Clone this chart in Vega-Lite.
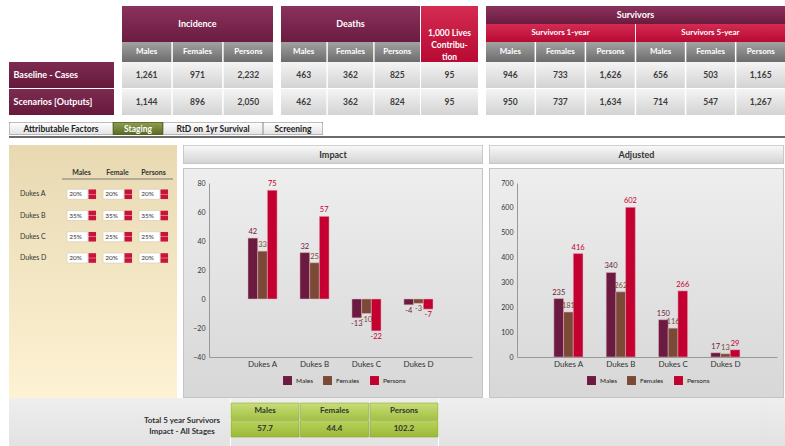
{
 "$schema": "https://vega.github.io/schema/vega-lite/v6.json",
 "usermeta": {"embedOptions": {"actions": false}},
 "background": "#ffffff",
 "padding": {"left": 9, "top": 6, "right": 0, "bottom": 0},
 "config": {"font": "Lato", "view": {"stroke": null}},
 "datasets": {
  "table": [
   {"grp": "inc", "row": "Baseline - Cases", "col": "Males", "val": "1,261"},
   {"grp": "inc", "row": "Baseline - Cases", "col": "Females", "val": "971"},
   {"grp": "inc", "row": "Baseline - Cases", "col": "Persons", "val": "2,232"},
   {"grp": "inc", "row": "Scenarios [Outputs]", "col": "Males", "val": "1,144"},
   {"grp": "inc", "row": "Scenarios [Outputs]", "col": "Females", "val": "896"},
   {"grp": "inc", "row": "Scenarios [Outputs]", "col": "Persons", "val": "2,050"},
   {"grp": "dea", "row": "Baseline - Cases", "col": "Males", "val": "463"},
   {"grp": "dea", "row": "Baseline - Cases", "col": "Females", "val": "362"},
   {"grp": "dea", "row": "Baseline - Cases", "col": "Persons", "val": "825"},
   {"grp": "dea", "row": "Scenarios [Outputs]", "col": "Males", "val": "462"},
   {"grp": "dea", "row": "Scenarios [Outputs]", "col": "Females", "val": "362"},
   {"grp": "dea", "row": "Scenarios [Outputs]", "col": "Persons", "val": "824"},
   {"grp": "liv", "row": "Baseline - Cases", "col": "Lives", "val": "95"},
   {"grp": "liv", "row": "Scenarios [Outputs]", "col": "Lives", "val": "95"},
   {"grp": "sur", "row": "Baseline - Cases", "col": "1M", "val": "946"},
   {"grp": "sur", "row": "Baseline - Cases", "col": "1F", "val": "733"},
   {"grp": "sur", "row": "Baseline - Cases", "col": "1P", "val": "1,626"},
   {"grp": "sur", "row": "Baseline - Cases", "col": "5M", "val": "656"},
   {"grp": "sur", "row": "Baseline - Cases", "col": "5F", "val": "503"},
   {"grp": "sur", "row": "Baseline - Cases", "col": "5P", "val": "1,165"},
   {"grp": "sur", "row": "Scenarios [Outputs]", "col": "1M", "val": "950"},
   {"grp": "sur", "row": "Scenarios [Outputs]", "col": "1F", "val": "737"},
   {"grp": "sur", "row": "Scenarios [Outputs]", "col": "1P", "val": "1,634"},
   {"grp": "sur", "row": "Scenarios [Outputs]", "col": "5M", "val": "714"},
   {"grp": "sur", "row": "Scenarios [Outputs]", "col": "5F", "val": "547"},
   {"grp": "sur", "row": "Scenarios [Outputs]", "col": "5P", "val": "1,267"}
  ],
  "impact": [
   {"stage": "Dukes A", "sex": "Males", "value": 42},
   {"stage": "Dukes A", "sex": "Females", "value": 33},
   {"stage": "Dukes A", "sex": "Persons", "value": 75},
   {"stage": "Dukes B", "sex": "Males", "value": 32},
   {"stage": "Dukes B", "sex": "Females", "value": 25},
   {"stage": "Dukes B", "sex": "Persons", "value": 57},
   {"stage": "Dukes C", "sex": "Males", "value": -13},
   {"stage": "Dukes C", "sex": "Females", "value": -10},
   {"stage": "Dukes C", "sex": "Persons", "value": -22},
   {"stage": "Dukes D", "sex": "Males", "value": -4},
   {"stage": "Dukes D", "sex": "Females", "value": -3},
   {"stage": "Dukes D", "sex": "Persons", "value": -7}
  ],
  "adjusted": [
   {"stage": "Dukes A", "sex": "Males", "value": 235},
   {"stage": "Dukes A", "sex": "Females", "value": 181},
   {"stage": "Dukes A", "sex": "Persons", "value": 416},
   {"stage": "Dukes B", "sex": "Males", "value": 340},
   {"stage": "Dukes B", "sex": "Females", "value": 262},
   {"stage": "Dukes B", "sex": "Persons", "value": 602},
   {"stage": "Dukes C", "sex": "Males", "value": 150},
   {"stage": "Dukes C", "sex": "Females", "value": 116},
   {"stage": "Dukes C", "sex": "Persons", "value": 266},
   {"stage": "Dukes D", "sex": "Males", "value": 17},
   {"stage": "Dukes D", "sex": "Females", "value": 13},
   {"stage": "Dukes D", "sex": "Persons", "value": 29}
  ],
  "staging": [
   {"stage": "Dukes A", "sex": "Males", "pct": "20%"},
   {"stage": "Dukes A", "sex": "Female", "pct": "20%"},
   {"stage": "Dukes A", "sex": "Persons", "pct": "20%"},
   {"stage": "Dukes B", "sex": "Males", "pct": "35%"},
   {"stage": "Dukes B", "sex": "Female", "pct": "35%"},
   {"stage": "Dukes B", "sex": "Persons", "pct": "35%"},
   {"stage": "Dukes C", "sex": "Males", "pct": "25%"},
   {"stage": "Dukes C", "sex": "Female", "pct": "25%"},
   {"stage": "Dukes C", "sex": "Persons", "pct": "25%"},
   {"stage": "Dukes D", "sex": "Males", "pct": "20%"},
   {"stage": "Dukes D", "sex": "Female", "pct": "20%"},
   {"stage": "Dukes D", "sex": "Persons", "pct": "20%"}
  ],
  "totals": [
   {"r": "head", "c": "Males", "t": "Males"},
   {"r": "head", "c": "Females", "t": "Females"},
   {"r": "head", "c": "Persons", "t": "Persons"},
   {"r": "val", "c": "Males", "t": "57.7"},
   {"r": "val", "c": "Females", "t": "44.4"},
   {"r": "val", "c": "Persons", "t": "102.2"}
  ]
 },
 "spacing": 7,
 "vconcat": [
  {
   "hconcat": [
    {
     "vconcat": [
      {"width": 105, "height": 56, "data": {"values": [{}]}, "mark": {"type": "rect", "opacity": 0}, "encoding": {}},
      {
       "width": 105, "height": 53,
       "data": {"values": [{"row": "Baseline - Cases"}, {"row": "Scenarios [Outputs]"}]},
       "encoding": {"y": {"field": "row", "type": "nominal", "axis": null, "scale": {"domain": ["Baseline - Cases", "Scenarios [Outputs]"], "paddingInner": 0.04, "paddingOuter": 0}}},
       "layer": [
        {"mark": {"type": "rect", "fill": {"gradient": "linear", "x1": 0, "y1": 0, "x2": 0, "y2": 1, "stops": [{"offset": 0, "color": "#7e2a52"}, {"offset": 1, "color": "#651a3b"}]}}},
        {"mark": {"type": "text", "align": "left", "dx": -48, "color": "#ffffff", "fontWeight": "bold", "fontSize": 9}, "encoding": {"text": {"field": "row"}}}
       ]
      }
     ],
     "spacing": 0
    },
    {
     "vconcat": [
      {
       "width": 151, "height": 36, "data": {"values": [{"t": "Incidence"}]},
       "layer": [
        {"mark": {"type": "rect", "fill": {"gradient": "linear", "x1": 0, "y1": 0, "x2": 0, "y2": 1, "stops": [{"offset": 0, "color": "#8a335d"}, {"offset": 1, "color": "#6b1b40"}]}}, "encoding": {}},
        {"mark": {"type": "text", "color": "#ffffff", "fontWeight": "bold", "fontSize": 9}, "encoding": {"text": {"field": "t"}}}
       ]
      },
      {
       "width": 151, "height": 20,
       "data": {"values": [{"col": "Males"}, {"col": "Females"}, {"col": "Persons"}]},
       "encoding": {"x": {"field": "col", "type": "nominal", "axis": null, "scale": {"domain": ["Males", "Females", "Persons"], "paddingInner": 0.03, "paddingOuter": 0}}},
       "layer": [
        {"mark": {"type": "rect", "fill": {"gradient": "linear", "x1": 0, "y1": 0, "x2": 0, "y2": 1, "stops": [{"offset": 0, "color": "#a2a2a2"}, {"offset": 1, "color": "#6c6c6c"}]}}},
        {"mark": {"type": "text", "color": "#ffffff", "fontWeight": "bold", "fontSize": 8}, "encoding": {"text": {"field": "col"}}}
       ]
      },
      {
       "width": 151, "height": 53,
       "data": {"name": "table"}, "transform": [{"filter": "datum.grp === 'inc'"}],
       "encoding": {
        "x": {"field": "col", "type": "nominal", "axis": null, "scale": {"domain": ["Males", "Females", "Persons"], "paddingInner": 0.03, "paddingOuter": 0}},
        "y": {"field": "row", "type": "nominal", "axis": null, "scale": {"domain": ["Baseline - Cases", "Scenarios [Outputs]"], "paddingInner": 0.04, "paddingOuter": 0}}
       },
       "layer": [
        {"mark": {"type": "rect", "fill": {"gradient": "linear", "x1": 0, "y1": 0, "x2": 0, "y2": 1, "stops": [{"offset": 0, "color": "#f4f4f4"}, {"offset": 1, "color": "#d3d3d3"}]}}},
        {"mark": {"type": "text", "color": "#3c3c3c", "fontWeight": "bold", "fontSize": 8.5}, "encoding": {"text": {"field": "val"}}}
       ]
      }
     ],
     "spacing": 0
    },
    {
     "hconcat": [
      {
       "vconcat": [
        {
         "width": 139, "height": 36, "data": {"values": [{"t": "Deaths"}]},
         "layer": [
          {"mark": {"type": "rect", "fill": {"gradient": "linear", "x1": 0, "y1": 0, "x2": 0, "y2": 1, "stops": [{"offset": 0, "color": "#8a335d"}, {"offset": 1, "color": "#6b1b40"}]}}, "encoding": {}},
          {"mark": {"type": "text", "color": "#ffffff", "fontWeight": "bold", "fontSize": 9}, "encoding": {"text": {"field": "t"}}}
         ]
        },
        {
         "width": 139, "height": 20,
         "data": {"values": [{"col": "Males"}, {"col": "Females"}, {"col": "Persons"}]},
         "encoding": {"x": {"field": "col", "type": "nominal", "axis": null, "scale": {"domain": ["Males", "Females", "Persons"], "paddingInner": 0.03, "paddingOuter": 0}}},
         "layer": [
          {"mark": {"type": "rect", "fill": {"gradient": "linear", "x1": 0, "y1": 0, "x2": 0, "y2": 1, "stops": [{"offset": 0, "color": "#a2a2a2"}, {"offset": 1, "color": "#6c6c6c"}]}}},
          {"mark": {"type": "text", "color": "#ffffff", "fontWeight": "bold", "fontSize": 8}, "encoding": {"text": {"field": "col"}}}
         ]
        },
        {
         "width": 139, "height": 53,
         "data": {"name": "table"}, "transform": [{"filter": "datum.grp === 'dea'"}],
         "encoding": {
          "x": {"field": "col", "type": "nominal", "axis": null, "scale": {"domain": ["Males", "Females", "Persons"], "paddingInner": 0.03, "paddingOuter": 0}},
          "y": {"field": "row", "type": "nominal", "axis": null, "scale": {"domain": ["Baseline - Cases", "Scenarios [Outputs]"], "paddingInner": 0.04, "paddingOuter": 0}}
         },
         "layer": [
          {"mark": {"type": "rect", "fill": {"gradient": "linear", "x1": 0, "y1": 0, "x2": 0, "y2": 1, "stops": [{"offset": 0, "color": "#f4f4f4"}, {"offset": 1, "color": "#d3d3d3"}]}}},
          {"mark": {"type": "text", "color": "#3c3c3c", "fontWeight": "bold", "fontSize": 8.5}, "encoding": {"text": {"field": "val"}}}
         ]
        }
       ],
       "spacing": 0
      },
      {
       "vconcat": [
        {
         "width": 57, "height": 56, "data": {"values": [{"t": "1,000 Lives\nContribu-\ntion"}]},
         "layer": [
          {"mark": {"type": "rect", "fill": {"gradient": "linear", "x1": 0, "y1": 0, "x2": 0, "y2": 1, "stops": [{"offset": 0, "color": "#d42b52"}, {"offset": 1, "color": "#b80a33"}]}}, "encoding": {}},
          {"mark": {"type": "text", "color": "#ffffff", "fontWeight": "bold", "fontSize": 8.5, "lineBreak": "\n", "lineHeight": 12, "dy": -1}, "encoding": {"text": {"field": "t"}}}
         ]
        },
        {
         "width": 57, "height": 53,
         "data": {"name": "table"}, "transform": [{"filter": "datum.grp === 'liv'"}],
         "encoding": {
          "y": {"field": "row", "type": "nominal", "axis": null, "scale": {"domain": ["Baseline - Cases", "Scenarios [Outputs]"], "paddingInner": 0.04, "paddingOuter": 0}}
         },
         "layer": [
          {"mark": {"type": "rect", "fill": {"gradient": "linear", "x1": 0, "y1": 0, "x2": 0, "y2": 1, "stops": [{"offset": 0, "color": "#f4f4f4"}, {"offset": 1, "color": "#d3d3d3"}]}}},
          {"mark": {"type": "text", "color": "#3c3c3c", "fontWeight": "bold", "fontSize": 8.5}, "encoding": {"text": {"field": "val"}}}
         ]
        }
       ],
       "spacing": 0
      }
     ],
     "spacing": 1
    },
    {
     "vconcat": [
      {
       "width": 299, "height": 18, "data": {"values": [{"t": "Survivors"}]},
       "layer": [
        {"mark": {"type": "rect", "fill": {"gradient": "linear", "x1": 0, "y1": 0, "x2": 0, "y2": 1, "stops": [{"offset": 0, "color": "#8a335d"}, {"offset": 1, "color": "#6b1b40"}]}}, "encoding": {}},
        {"mark": {"type": "text", "color": "#ffffff", "fontWeight": "bold", "fontSize": 9}, "encoding": {"text": {"field": "t"}}}
       ]
      },
      {
       "width": 299, "height": 18,
       "data": {"values": [{"col": "S1", "t": "Survivors 1-year"}, {"col": "S5", "t": "Survivors 5-year"}]},
       "encoding": {"x": {"field": "col", "type": "nominal", "axis": null, "scale": {"domain": ["S1", "S5"], "paddingInner": 0.006, "paddingOuter": 0}}},
       "layer": [
        {"mark": {"type": "rect", "fill": {"gradient": "linear", "x1": 0, "y1": 0, "x2": 0, "y2": 1, "stops": [{"offset": 0, "color": "#d42b52"}, {"offset": 1, "color": "#b80a33"}]}}},
        {"mark": {"type": "text", "color": "#ffffff", "fontWeight": "bold", "fontSize": 8}, "encoding": {"text": {"field": "t"}}}
       ]
      },
      {
       "width": 299, "height": 20,
       "data": {"values": [{"col": "1M", "t": "Males"}, {"col": "1F", "t": "Females"}, {"col": "1P", "t": "Persons"}, {"col": "5M", "t": "Males"}, {"col": "5F", "t": "Females"}, {"col": "5P", "t": "Persons"}]},
       "encoding": {"x": {"field": "col", "type": "nominal", "axis": null, "scale": {"domain": ["1M", "1F", "1P", "5M", "5F", "5P"], "paddingInner": 0.03, "paddingOuter": 0}}},
       "layer": [
        {"mark": {"type": "rect", "fill": {"gradient": "linear", "x1": 0, "y1": 0, "x2": 0, "y2": 1, "stops": [{"offset": 0, "color": "#a2a2a2"}, {"offset": 1, "color": "#6c6c6c"}]}}},
        {"mark": {"type": "text", "color": "#ffffff", "fontWeight": "bold", "fontSize": 8}, "encoding": {"text": {"field": "t"}}}
       ]
      },
      {
       "width": 299, "height": 53,
       "data": {"name": "table"}, "transform": [{"filter": "datum.grp === 'sur'"}],
       "encoding": {
        "x": {"field": "col", "type": "nominal", "axis": null, "scale": {"domain": ["1M", "1F", "1P", "5M", "5F", "5P"], "paddingInner": 0.03, "paddingOuter": 0}},
        "y": {"field": "row", "type": "nominal", "axis": null, "scale": {"domain": ["Baseline - Cases", "Scenarios [Outputs]"], "paddingInner": 0.04, "paddingOuter": 0}}
       },
       "layer": [
        {"mark": {"type": "rect", "fill": {"gradient": "linear", "x1": 0, "y1": 0, "x2": 0, "y2": 1, "stops": [{"offset": 0, "color": "#f4f4f4"}, {"offset": 1, "color": "#d3d3d3"}]}}},
        {"mark": {"type": "text", "color": "#3c3c3c", "fontWeight": "bold", "fontSize": 8.5}, "encoding": {"text": {"field": "val"}}}
       ]
      }
     ],
     "spacing": 0
    }
   ],
   "spacing": 8
  },
  {
   "vconcat": [
    {
     "hconcat": [
      {
       "width": 104, "height": 13, "data": {"values": [{"t": "Attributable Factors"}]},
       "layer": [
        {"mark": {"type": "rect", "clip": true, "fill": {"gradient": "linear", "x1": 0, "y1": 0, "x2": 0, "y2": 1, "stops": [{"offset": 0, "color": "#ffffff"}, {"offset": 1, "color": "#e2e2e2"}]}, "stroke": "#a8a8a8", "strokeWidth": 1.4, "cornerRadiusTopLeft": 2, "cornerRadiusTopRight": 2}, "encoding": {}},
        {"mark": {"type": "text", "color": "#222222", "fontWeight": "bold", "fontSize": 8.5}, "encoding": {"text": {"field": "t"}}}
       ]
      },
      {
       "width": 50, "height": 13, "data": {"values": [{"t": "Staging"}]},
       "layer": [
        {"mark": {"type": "rect", "clip": true, "fill": {"gradient": "linear", "x1": 0, "y1": 0, "x2": 0, "y2": 1, "stops": [{"offset": 0, "color": "#909f50"}, {"offset": 1, "color": "#5a6a22"}]}, "stroke": "#56641f", "strokeWidth": 1.4, "cornerRadiusTopLeft": 2, "cornerRadiusTopRight": 2}, "encoding": {}},
        {"mark": {"type": "text", "color": "#ffffff", "fontWeight": "bold", "fontSize": 8.5}, "encoding": {"text": {"field": "t"}}}
       ]
      },
      {
       "width": 100, "height": 13, "data": {"values": [{"t": "RtD on 1yr Survival"}]},
       "layer": [
        {"mark": {"type": "rect", "clip": true, "fill": {"gradient": "linear", "x1": 0, "y1": 0, "x2": 0, "y2": 1, "stops": [{"offset": 0, "color": "#ffffff"}, {"offset": 1, "color": "#e2e2e2"}]}, "stroke": "#a8a8a8", "strokeWidth": 1.4, "cornerRadiusTopLeft": 2, "cornerRadiusTopRight": 2}, "encoding": {}},
        {"mark": {"type": "text", "color": "#222222", "fontWeight": "bold", "fontSize": 8.5}, "encoding": {"text": {"field": "t"}}}
       ]
      },
      {
       "width": 60, "height": 13, "data": {"values": [{"t": "Screening"}]},
       "layer": [
        {"mark": {"type": "rect", "clip": true, "fill": {"gradient": "linear", "x1": 0, "y1": 0, "x2": 0, "y2": 1, "stops": [{"offset": 0, "color": "#ffffff"}, {"offset": 1, "color": "#e2e2e2"}]}, "stroke": "#a8a8a8", "strokeWidth": 1.4, "cornerRadiusTopLeft": 2, "cornerRadiusTopRight": 2}, "encoding": {}},
        {"mark": {"type": "text", "color": "#222222", "fontWeight": "bold", "fontSize": 8.5}, "encoding": {"text": {"field": "t"}}}
       ]
      }
     ],
     "spacing": 0
    },
    {"width": 776, "height": 2, "data": {"values": [{}]}, "mark": {"type": "rect", "fill": "#6b6b6b"}, "encoding": {}}
   ],
   "spacing": 1
  },
  {
   "vconcat": [
    {
     "hconcat": [
      {
       "width": 168, "height": 253,
       "layer": [
        {"data": {"values": [{}]}, "mark": {"type": "rect", "fill": {"gradient": "linear", "x1": 0, "y1": 0, "x2": 0, "y2": 1, "stops": [{"offset": 0, "color": "#e8d9b2"}, {"offset": 1, "color": "#fdf2d4"}]}}, "encoding": {}},
        {
         "data": {"values": [{"stage": "Dukes A"}, {"stage": "Dukes B"}, {"stage": "Dukes C"}, {"stage": "Dukes D"}]},
         "mark": {"type": "text", "align": "left", "dx": -73, "fontSize": 7, "color": "#333333"},
         "encoding": {
          "y": {"field": "stage", "type": "nominal", "axis": null, "scale": {"type": "point", "domain": ["hdr", "Dukes A", "Dukes B", "Dukes C", "Dukes D"], "range": [28, 113], "padding": 0}},
          "text": {"field": "stage"}
         }
        },
        {
         "data": {"values": [{"sex": "Males"}, {"sex": "Female"}, {"sex": "Persons"}]},
         "mark": {"type": "text", "fontSize": 7, "fontWeight": "bold", "color": "#333333"},
         "encoding": {
          "x": {"field": "sex", "type": "nominal", "axis": null, "scale": {"type": "point", "domain": ["Males", "Female", "Persons"], "range": [72.5, 144.5], "padding": 0}},
          "y": {"datum": "hdr", "type": "nominal", "axis": null, "scale": {"type": "point", "domain": ["hdr", "Dukes A", "Dukes B", "Dukes C", "Dukes D"], "range": [28, 113], "padding": 0}},
          "text": {"field": "sex"}
         }
        },
        {
         "data": {"values": [{}]},
         "mark": {"type": "rule", "color": "#7a7a7a", "strokeWidth": 1.2, "xOffset": -19.5, "x2Offset": 19.5, "yOffset": 6},
         "encoding": {
          "x": {"datum": "Males", "type": "nominal", "axis": null, "scale": {"type": "point", "domain": ["Males", "Female", "Persons"], "range": [72.5, 144.5], "padding": 0}},
          "x2": {"datum": "Persons"},
          "y": {"datum": "hdr", "type": "nominal", "axis": null, "scale": {"type": "point", "domain": ["hdr", "Dukes A", "Dukes B", "Dukes C", "Dukes D"], "range": [28, 113], "padding": 0}}
         }
        },
        {
         "data": {"name": "staging"},
         "mark": {"type": "rect", "width": 21, "height": 10, "xOffset": -4, "fill": "#ffffff", "stroke": "#d2c9b6", "strokeWidth": 0.6},
         "encoding": {
          "x": {"field": "sex", "type": "nominal", "axis": null, "scale": {"type": "point", "domain": ["Males", "Female", "Persons"], "range": [72.5, 144.5], "padding": 0}},
          "y": {"field": "stage", "type": "nominal", "axis": null, "scale": {"type": "point", "domain": ["hdr", "Dukes A", "Dukes B", "Dukes C", "Dukes D"], "range": [28, 113], "padding": 0}}
         }
        },
        {
         "data": {"name": "staging"},
         "mark": {"type": "rect", "width": 7.5, "height": 4.6, "xOffset": 10.8, "yOffset": -2.5, "fill": "#c8143c"},
         "encoding": {
          "x": {"field": "sex", "type": "nominal", "axis": null, "scale": {"type": "point", "domain": ["Males", "Female", "Persons"], "range": [72.5, 144.5], "padding": 0}},
          "y": {"field": "stage", "type": "nominal", "axis": null, "scale": {"type": "point", "domain": ["hdr", "Dukes A", "Dukes B", "Dukes C", "Dukes D"], "range": [28, 113], "padding": 0}}
         }
        },
        {
         "data": {"name": "staging"},
         "mark": {"type": "rect", "width": 7.5, "height": 4.6, "xOffset": 10.8, "yOffset": 2.5, "fill": "#c8143c"},
         "encoding": {
          "x": {"field": "sex", "type": "nominal", "axis": null, "scale": {"type": "point", "domain": ["Males", "Female", "Persons"], "range": [72.5, 144.5], "padding": 0}},
          "y": {"field": "stage", "type": "nominal", "axis": null, "scale": {"type": "point", "domain": ["hdr", "Dukes A", "Dukes B", "Dukes C", "Dukes D"], "range": [28, 113], "padding": 0}}
         }
        },
        {
         "data": {"name": "staging"},
         "mark": {"type": "text", "fontSize": 6.5, "xOffset": -6, "color": "#333333"},
         "encoding": {
          "x": {"field": "sex", "type": "nominal", "axis": null, "scale": {"type": "point", "domain": ["Males", "Female", "Persons"], "range": [72.5, 144.5], "padding": 0}},
          "y": {"field": "stage", "type": "nominal", "axis": null, "scale": {"type": "point", "domain": ["hdr", "Dukes A", "Dukes B", "Dukes C", "Dukes D"], "range": [28, 113], "padding": 0}},
          "text": {"field": "pct"}
         }
        }
       ]
      },
      {
       "vconcat": [
        {
         "width": 300, "height": 19, "data": {"values": [{"t": "Impact"}]},
         "layer": [
          {"mark": {"type": "rect", "clip": true, "fill": {"gradient": "linear", "x1": 0, "y1": 0, "x2": 0, "y2": 1, "stops": [{"offset": 0, "color": "#fafafa"}, {"offset": 1, "color": "#d2d2d2"}]}, "stroke": "#c2c2c2", "strokeWidth": 1.6}, "encoding": {}},
          {"mark": {"type": "text", "color": "#333333", "fontWeight": "bold", "fontSize": 9}, "encoding": {"text": {"field": "t"}}}
         ]
        },
        {
         "width": 300, "height": 230,
         "data": {"name": "impact"},
         "layer": [
          {"data": {"values": [{}]}, "mark": {"type": "rect", "clip": true, "fill": {"gradient": "linear", "x1": 0, "y1": 0, "x2": 0, "y2": 1, "stops": [{"offset": 0, "color": "#eeeeee"}, {"offset": 1, "color": "#d7d7d7"}]}, "stroke": "#c4c4c4", "strokeWidth": 2}, "encoding": {}},
          {
           "mark": {"type": "bar", "stroke": "#e2b6c2", "strokeWidth": 0.5},
           "encoding": {
            "x": {"field": "stage", "type": "nominal", "title": null, "scale": {"domain": ["Dukes A", "Dukes B", "Dukes C", "Dukes D"], "range": [26, 289], "paddingInner": 0.44, "paddingOuter": 0.75}, "axis": {"offset": -41, "zindex": 1, "domainColor": "#999999", "ticks": false, "grid": false, "labelAngle": 0, "labelFontSize": 8, "labelColor": "#333333", "labelPadding": 3}},
            "xOffset": {"field": "sex", "type": "nominal", "scale": {"domain": ["Males", "Females", "Persons"], "paddingInner": 0, "paddingOuter": 0}},
            "y": {"field": "value", "type": "quantitative", "title": null, "scale": {"domain": [-40, 80], "range": [189, 15], "nice": false}, "axis": {"offset": -26, "zindex": 1, "values": [-40, -20, 0, 20, 40, 60, 80], "tickCount": 20, "labelOverlap": false, "domainColor": "#999999", "ticks": false, "grid": false, "labelFontSize": 7, "labelColor": "#333333", "labelPadding": 4}},
            "color": {"field": "sex", "type": "nominal", "scale": {"domain": ["Males", "Females", "Persons"], "range": ["#6b1a40", "#7b4a36", "#c3002f"]}, "legend": {"orient": "none", "legendX": 100, "legendY": 208, "direction": "horizontal", "title": null, "symbolType": "square", "symbolSize": 80, "symbolStrokeWidth": 0, "labelFontSize": 6.5, "labelColor": "#222222", "columnPadding": 10, "padding": 0, "zindex": 1}}
           }
          },
          {
           "transform": [{"filter": "datum.value >= 0"}],
           "mark": {"type": "text", "baseline": "bottom", "dy": -2, "fontSize": 7.5},
           "encoding": {
            "x": {"field": "stage", "type": "nominal"},
            "xOffset": {"field": "sex", "type": "nominal"},
            "y": {"field": "value", "type": "quantitative"},
            "color": {"field": "sex", "type": "nominal"},
            "text": {"field": "value"}
           }
          },
          {
           "transform": [{"filter": "datum.value < 0"}],
           "mark": {"type": "text", "baseline": "top", "dy": 2, "fontSize": 7.5},
           "encoding": {
            "x": {"field": "stage", "type": "nominal"},
            "xOffset": {"field": "sex", "type": "nominal"},
            "y": {"field": "value", "type": "quantitative"},
            "color": {"field": "sex", "type": "nominal"},
            "text": {"field": "value"}
           }
          }
         ]
        }
       ],
       "spacing": 4,
       "resolve": {"scale": {"color": "independent"}, "legend": {"color": "independent"}}
      },
      {
       "vconcat": [
        {
         "width": 295, "height": 19, "data": {"values": [{"t": "Adjusted"}]},
         "layer": [
          {"mark": {"type": "rect", "clip": true, "fill": {"gradient": "linear", "x1": 0, "y1": 0, "x2": 0, "y2": 1, "stops": [{"offset": 0, "color": "#fafafa"}, {"offset": 1, "color": "#d2d2d2"}]}, "stroke": "#c2c2c2", "strokeWidth": 1.6}, "encoding": {}},
          {"mark": {"type": "text", "color": "#333333", "fontWeight": "bold", "fontSize": 9}, "encoding": {"text": {"field": "t"}}}
         ]
        },
        {
         "width": 295, "height": 230,
         "data": {"name": "adjusted"},
         "layer": [
          {"data": {"values": [{}]}, "mark": {"type": "rect", "clip": true, "fill": {"gradient": "linear", "x1": 0, "y1": 0, "x2": 0, "y2": 1, "stops": [{"offset": 0, "color": "#eeeeee"}, {"offset": 1, "color": "#d7d7d7"}]}, "stroke": "#c4c4c4", "strokeWidth": 2}, "encoding": {}},
          {
           "mark": {"type": "bar", "stroke": "#e2b6c2", "strokeWidth": 0.5},
           "encoding": {
            "x": {"field": "stage", "type": "nominal", "title": null, "scale": {"domain": ["Dukes A", "Dukes B", "Dukes C", "Dukes D"], "range": [28, 288], "paddingInner": 0.44, "paddingOuter": 0.705}, "axis": {"offset": -41, "zindex": 1, "domainColor": "#999999", "ticks": false, "grid": false, "labelAngle": 0, "labelFontSize": 8, "labelColor": "#333333", "labelPadding": 3}},
            "xOffset": {"field": "sex", "type": "nominal", "scale": {"domain": ["Males", "Females", "Persons"], "paddingInner": 0, "paddingOuter": 0}},
            "y": {"field": "value", "type": "quantitative", "title": null, "scale": {"domain": [0, 700], "range": [189, 15], "nice": false}, "axis": {"offset": -28, "zindex": 1, "values": [0, 100, 200, 300, 400, 500, 600, 700], "tickCount": 20, "labelOverlap": false, "domainColor": "#999999", "ticks": false, "grid": false, "labelFontSize": 7, "labelColor": "#333333", "labelPadding": 4}},
            "color": {"field": "sex", "type": "nominal", "scale": {"domain": ["Males", "Females", "Persons"], "range": ["#6b1a40", "#7b4a36", "#c3002f"]}, "legend": {"orient": "none", "legendX": 98, "legendY": 208, "direction": "horizontal", "title": null, "symbolType": "square", "symbolSize": 80, "symbolStrokeWidth": 0, "labelFontSize": 6.5, "labelColor": "#222222", "columnPadding": 10, "padding": 0, "zindex": 1}}
           }
          },
          {
           "mark": {"type": "text", "baseline": "bottom", "dy": -2, "fontSize": 7.5},
           "encoding": {
            "x": {"field": "stage", "type": "nominal"},
            "xOffset": {"field": "sex", "type": "nominal"},
            "y": {"field": "value", "type": "quantitative"},
            "color": {"field": "sex", "type": "nominal"},
            "text": {"field": "value"}
           }
          }
         ]
        }
       ],
       "spacing": 4,
       "resolve": {"scale": {"color": "independent"}, "legend": {"color": "independent"}}
      }
     ],
     "spacing": 6
    },
    {
     "hconcat": [
      {
       "width": 221, "height": 48, "data": {"values": [{"t": "Total 5 year Survivors\nImpact - All Stages"}]},
       "layer": [
        {"mark": {"type": "rect", "fill": {"gradient": "linear", "x1": 0, "y1": 0, "x2": 0, "y2": 1, "stops": [{"offset": 0, "color": "#eeeeee"}, {"offset": 1, "color": "#e2e2e2"}]}}, "encoding": {}},
        {"mark": {"type": "text", "lineBreak": "\n", "lineHeight": 11, "fontSize": 8, "fontWeight": "bold", "color": "#333333", "dx": 62.5, "dy": -1.5}, "encoding": {"text": {"field": "t"}}}
       ]
      },
      {
       "width": 207, "height": 48,
       "layer": [
        {"data": {"values": [{}]}, "mark": {"type": "rect", "fill": {"gradient": "linear", "x1": 0, "y1": 0, "x2": 0, "y2": 1, "stops": [{"offset": 0, "color": "#eeeeee"}, {"offset": 1, "color": "#e2e2e2"}]}}, "encoding": {}},
        {
         "data": {"name": "totals"}, "transform": [{"filter": "datum.r === 'head'"}],
         "mark": {"type": "rect", "fill": {"gradient": "linear", "x1": 0, "y1": 0, "x2": 0, "y2": 1, "stops": [{"offset": 0, "color": "#c8dd78"}, {"offset": 1, "color": "#a4c244"}]}, "stroke": "#93ad3c", "strokeWidth": 0.6},
         "encoding": {
          "x": {"field": "c", "type": "nominal", "axis": null, "scale": {"domain": ["Males", "Females", "Persons"], "paddingInner": 0.02, "paddingOuter": 0}},
          "y": {"field": "r", "type": "nominal", "axis": null, "scale": {"domain": ["head", "val"], "range": [5, 39], "paddingInner": 0.05, "paddingOuter": 0}}
         }
        },
        {
         "data": {"name": "totals"}, "transform": [{"filter": "datum.r === 'val'"}],
         "mark": {"type": "rect", "fill": {"gradient": "linear", "x1": 0, "y1": 0, "x2": 0, "y2": 1, "stops": [{"offset": 0, "color": "#b9d35c"}, {"offset": 1, "color": "#9bb936"}]}, "stroke": "#8aa534", "strokeWidth": 0.6},
         "encoding": {
          "x": {"field": "c", "type": "nominal", "axis": null, "scale": {"domain": ["Males", "Females", "Persons"], "paddingInner": 0.02, "paddingOuter": 0}},
          "y": {"field": "r", "type": "nominal", "axis": null, "scale": {"domain": ["head", "val"], "range": [5, 39], "paddingInner": 0.05, "paddingOuter": 0}}
         }
        },
        {
         "data": {"name": "totals"},
         "mark": {"type": "text", "fontSize": 8, "fontWeight": "bold", "color": "#333333"},
         "encoding": {
          "x": {"field": "c", "type": "nominal", "axis": null, "scale": {"domain": ["Males", "Females", "Persons"], "paddingInner": 0.02, "paddingOuter": 0}},
          "y": {"field": "r", "type": "nominal", "axis": null, "scale": {"domain": ["head", "val"], "range": [5, 39], "paddingInner": 0.05, "paddingOuter": 0}},
          "text": {"field": "t"}
         }
        }
       ]
      },
      {
       "width": 348, "height": 48, "data": {"values": [{}]},
       "mark": {"type": "rect", "fill": {"gradient": "linear", "x1": 0, "y1": 0, "x2": 0, "y2": 1, "stops": [{"offset": 0, "color": "#eeeeee"}, {"offset": 1, "color": "#e2e2e2"}]}},
       "encoding": {}
      }
     ],
     "spacing": 0
    }
   ],
   "spacing": 0
  }
 ]
}
